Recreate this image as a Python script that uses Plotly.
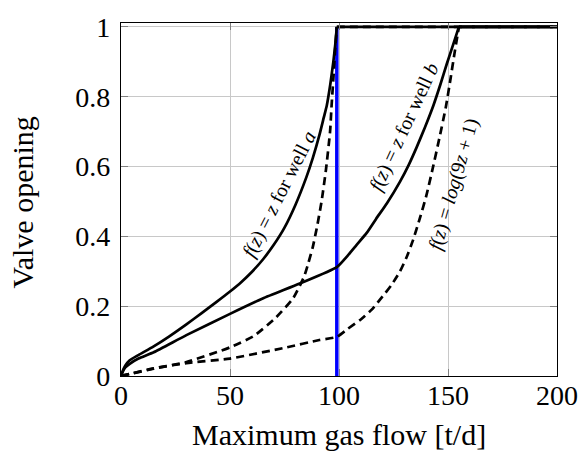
import plotly.graph_objects as go

# Valve opening vs. maximum gas flow for two wells, two valve laws each
flow_a = [0, 1, 2, 4, 8, 15, 22, 30, 37, 44, 50, 55, 60, 65, 70, 75, 80, 85, 88, 91, 93, 94.4, 96, 97.4, 98.3, 99, 200]
open_a = [0, 0.018, 0.03, 0.045, 0.06, 0.085, 0.113, 0.148, 0.18, 0.213, 0.242, 0.268, 0.298, 0.333, 0.375, 0.425,
          0.49, 0.569, 0.625, 0.69, 0.74, 0.775, 0.835, 0.9, 0.95, 1, 1]

flow_b = [0, 1, 2, 4, 8, 15, 30, 50, 65, 82, 99, 104, 108, 112.7, 117, 122, 128, 132, 135.6, 139.4, 143.3, 146.5,
          149.4, 152.4, 155, 200]
open_b = [0, 0.015, 0.025, 0.035, 0.05, 0.068, 0.117, 0.178, 0.222, 0.265, 0.312, 0.345, 0.375, 0.41, 0.45, 0.495,
          0.557, 0.605, 0.655, 0.712, 0.775, 0.835, 0.893, 0.95, 1, 1]

flow_a_log = [0, 15, 30, 50, 61, 71, 79, 84, 86, 88, 90, 92, 94, 95.9, 96.6, 97.5, 98.3, 99, 200]
open_a_log = [0, 0.021, 0.04, 0.082, 0.115, 0.167, 0.223, 0.285, 0.325, 0.37, 0.43, 0.5, 0.59, 0.70, 0.775, 0.86,
              0.94, 1, 1]

flow_b_log = [0, 15, 30, 50, 76, 91, 99, 104, 110, 115, 120, 124, 128, 131, 134, 137, 140, 143, 146, 149, 151, 153, 155, 200]
open_b_log = [0, 0.022, 0.037, 0.05, 0.082, 0.103, 0.112, 0.135, 0.162, 0.19, 0.228, 0.26, 0.30, 0.34, 0.39, 0.45,
              0.515, 0.595, 0.68, 0.77, 0.845, 0.925, 1, 1]

limit_flow = [99, 99]
limit_open = [0, 1]

x_ticks = [0, 50, 100, 150, 200]
y_ticks = [0, 0.2, 0.4, 0.6, 0.8, 1]
y_tick_text = ["0", "0.2", "0.4", "0.6", "0.8", "1"]

FONT = "Liberation Serif, Times New Roman, Times, serif"
LW = 2.7
DASH = "8px,5px"


def add_curve(fig, xs, ys, dash=None):
    # rising part as a smooth curve, saturated part (valve fully open) as a straight run
    k = ys.index(1)
    line = dict(color="black", width=LW, dash=dash)
    fig.add_trace(go.Scatter(x=xs[:k + 1], y=ys[:k + 1], mode="lines",
                             line=dict(line, shape="spline", smoothing=0.5)))
    fig.add_trace(go.Scatter(x=xs[k:], y=ys[k:], mode="lines", line=line))


fig = go.Figure()
fig.add_trace(go.Scatter(x=limit_flow, y=limit_open, mode="lines",
                         line=dict(color="#0000ff", width=3.5)))
add_curve(fig, flow_a_log, open_a_log, DASH)
add_curve(fig, flow_b_log, open_b_log, DASH)
add_curve(fig, flow_a, open_a)
add_curve(fig, flow_b, open_b)

labels = [
    (72.8, 0.522, -63, "<i>f</i>(<i>z</i>) = <i>z</i> for well <i>a</i>"),
    (129.8, 0.716, -65, "<i>f</i>(<i>z</i>) = <i>z</i> for well <i>b</i>"),
    (152.3, 0.55, -74, "<i>f</i>(<i>z</i>) = <i>log</i>(9<i>z</i> + 1)"),
]
for x, y, ang, txt in labels:
    fig.add_annotation(x=x, y=y, xref="x", yref="y", text=txt, showarrow=False,
                       textangle=ang, font=dict(family=FONT, size=20, color="black"))

# x tick labels sit close under the axis
for v in x_ticks:
    fig.add_annotation(x=v, y=-0.055, xref="x", yref="paper", yanchor="middle",
                       text=str(v), showarrow=False,
                       font=dict(family=FONT, size=28, color="black"))

fig.add_annotation(x=0.5, y=-0.167, xref="paper", yref="paper", yanchor="middle",
                   text="Maximum gas flow [t/d]", showarrow=False,
                   font=dict(family=FONT, size=30, color="black"))
fig.add_annotation(x=-0.228, y=0.49, xref="paper", yref="paper", xanchor="center",
                   text="Valve opening", showarrow=False, textangle=-90,
                   font=dict(family=FONT, size=30, color="black"))

axis_common = dict(showgrid=True, gridcolor="#c8c8c8", gridwidth=1,
                   showline=True, linecolor="black", linewidth=1.3, mirror="ticks",
                   ticks="inside", ticklen=7, tickcolor="#808080", tickwidth=1.2,
                   zeroline=False, tickfont=dict(family=FONT, size=28, color="black"))

fig.update_xaxes(range=[0, 200], tickvals=x_ticks, showticklabels=False, **axis_common)
fig.update_yaxes(range=[0, 1.0112], tickvals=y_ticks, ticktext=y_tick_text,
                 ticklabelstandoff=4, **axis_common)

fig.update_layout(width=581, height=459, showlegend=False,
                  margin=dict(l=121, r=24, t=16, b=83),
                  font=dict(family=FONT),
                  plot_bgcolor="white", paper_bgcolor="white")

fig.write_html("out.html")
